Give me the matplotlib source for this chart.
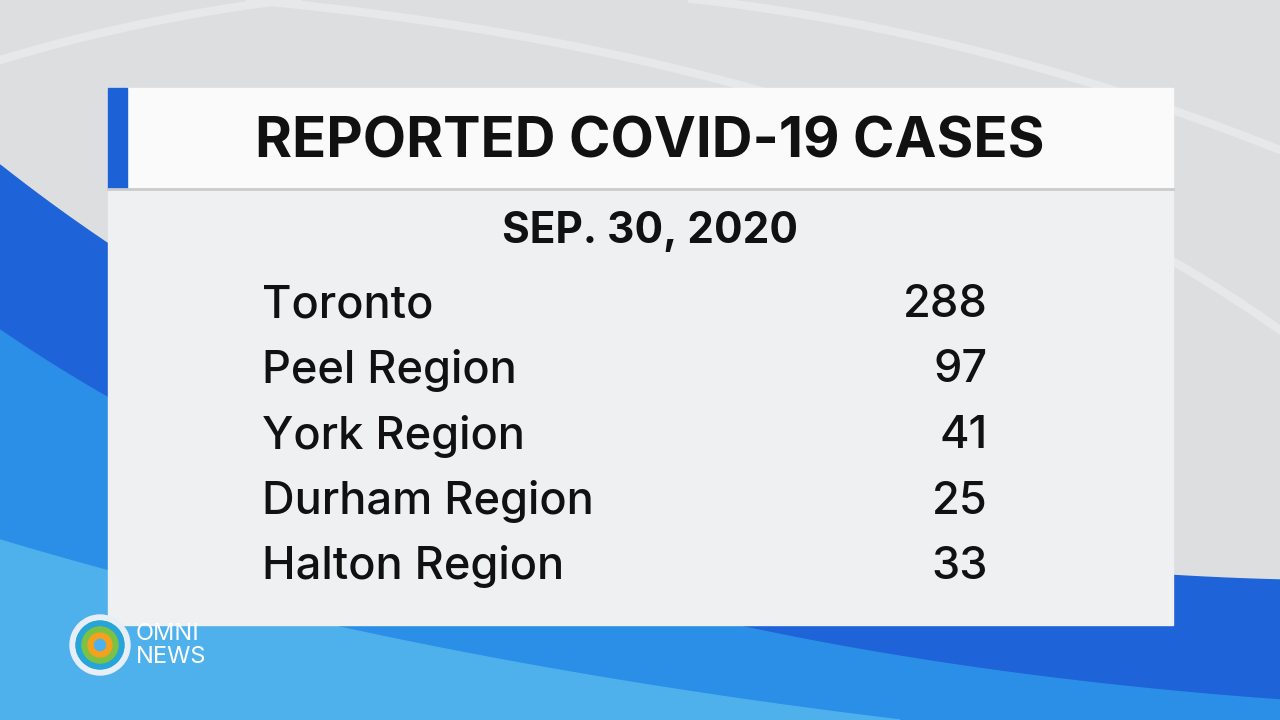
import matplotlib
matplotlib.use('Agg')
import matplotlib.pyplot as plt
import numpy as np
from matplotlib.patches import Rectangle, Polygon, Wedge

TITLE = "REPORTED COVID-19 CASES"
DATE = "SEP. 30, 2020"
regions = ["Toronto", "Peel Region", "York Region", "Durham Region", "Halton Region"]
cases = [288, 97, 41, 25, 33]

fig = plt.figure(figsize=(12.8, 7.2), dpi=100)
ax = fig.add_axes([0, 0, 1, 1])
ax.set_xlim(0, 1280)
ax.set_ylim(720, 0)
ax.axis('off')
fig.patch.set_facecolor('#dcdee0')

def bez(p0, p1, p2, n=80):
    t = np.linspace(0, 1, n)[:, None]
    return (1 - t) ** 2 * np.array(p0) + 2 * (1 - t) * t * np.array(p1) + t ** 2 * np.array(p2)

# light arcs in the grey background
for (a, b, c) in [((0, 60), (600, -120), (1280, 150)), ((250, 0), (900, 60), (1280, 330))]:
    pts = bez(a, b, c)
    ax.plot(pts[:, 0], pts[:, 1], color='#e6e8e9', lw=6, zorder=0)

# blue swooshes
top = bez((0, 165), (500, 560), (1280, 580))
ax.add_patch(Polygon(np.vstack([top, [[1280, 720], [0, 720]]]), color='#1f63d8', zorder=1))
top2 = bez((0, 330), (450, 640), (1280, 700))
ax.add_patch(Polygon(np.vstack([top2, [[1280, 720], [0, 720]]]), color='#2b8fe8', zorder=1))
top3 = bez((0, 540), (400, 660), (900, 720))
ax.add_patch(Polygon(np.vstack([top3, [[0, 720]]]), color='#4fb1ec', zorder=1))

# panel
ax.add_patch(Rectangle((108, 190), 1065, 435, color='#eef0f2', zorder=2))
ax.add_patch(Rectangle((108, 88), 1065, 100, color='#fafafa', zorder=3))
ax.add_patch(Rectangle((108, 88), 19, 100, color='#1c62d6', zorder=4))
ax.plot([108, 1173], [189, 189], color='#c9cbcd', lw=2, zorder=4)

FONT = 'Inter'
ax.text(650, 142, TITLE, ha='center', va='center', fontsize=40.5, fontweight='bold',
        family=FONT, color='#111111', zorder=5)
ax.text(650, 231, DATE, ha='center', va='center', fontsize=30.5, fontweight='bold',
        family=FONT, color='#111111', zorder=5)

y0, dy = 305, 65.5
for i, (r, c) in enumerate(zip(regions, cases)):
    y = y0 + i * dy
    ax.text(262, y, r, ha='left', va='center', fontsize=32.5, family=FONT,
            fontweight='medium', color='#111111', zorder=5)
    ax.text(988, y, str(c), ha='right', va='center', fontsize=32.5, family=FONT,
            fontweight='medium', color='#111111', zorder=5)

# logo
cx, cy = 100, 645
for r, col in [(30, '#e8eef5'), (24, '#27a4d8'), (18, '#7cc242'), (12, '#f4a11d')]:
    ax.add_patch(Wedge((cx, cy), r, 0, 360, width=5, color=col, zorder=6))
ax.text(136, 634, "OMNI", fontsize=17, color='white', family=FONT, va='center', zorder=6)
ax.text(136, 657, "NEWS", fontsize=17, color='white', family=FONT, va='center', zorder=6)

fig.savefig('out.png', dpi=100)
